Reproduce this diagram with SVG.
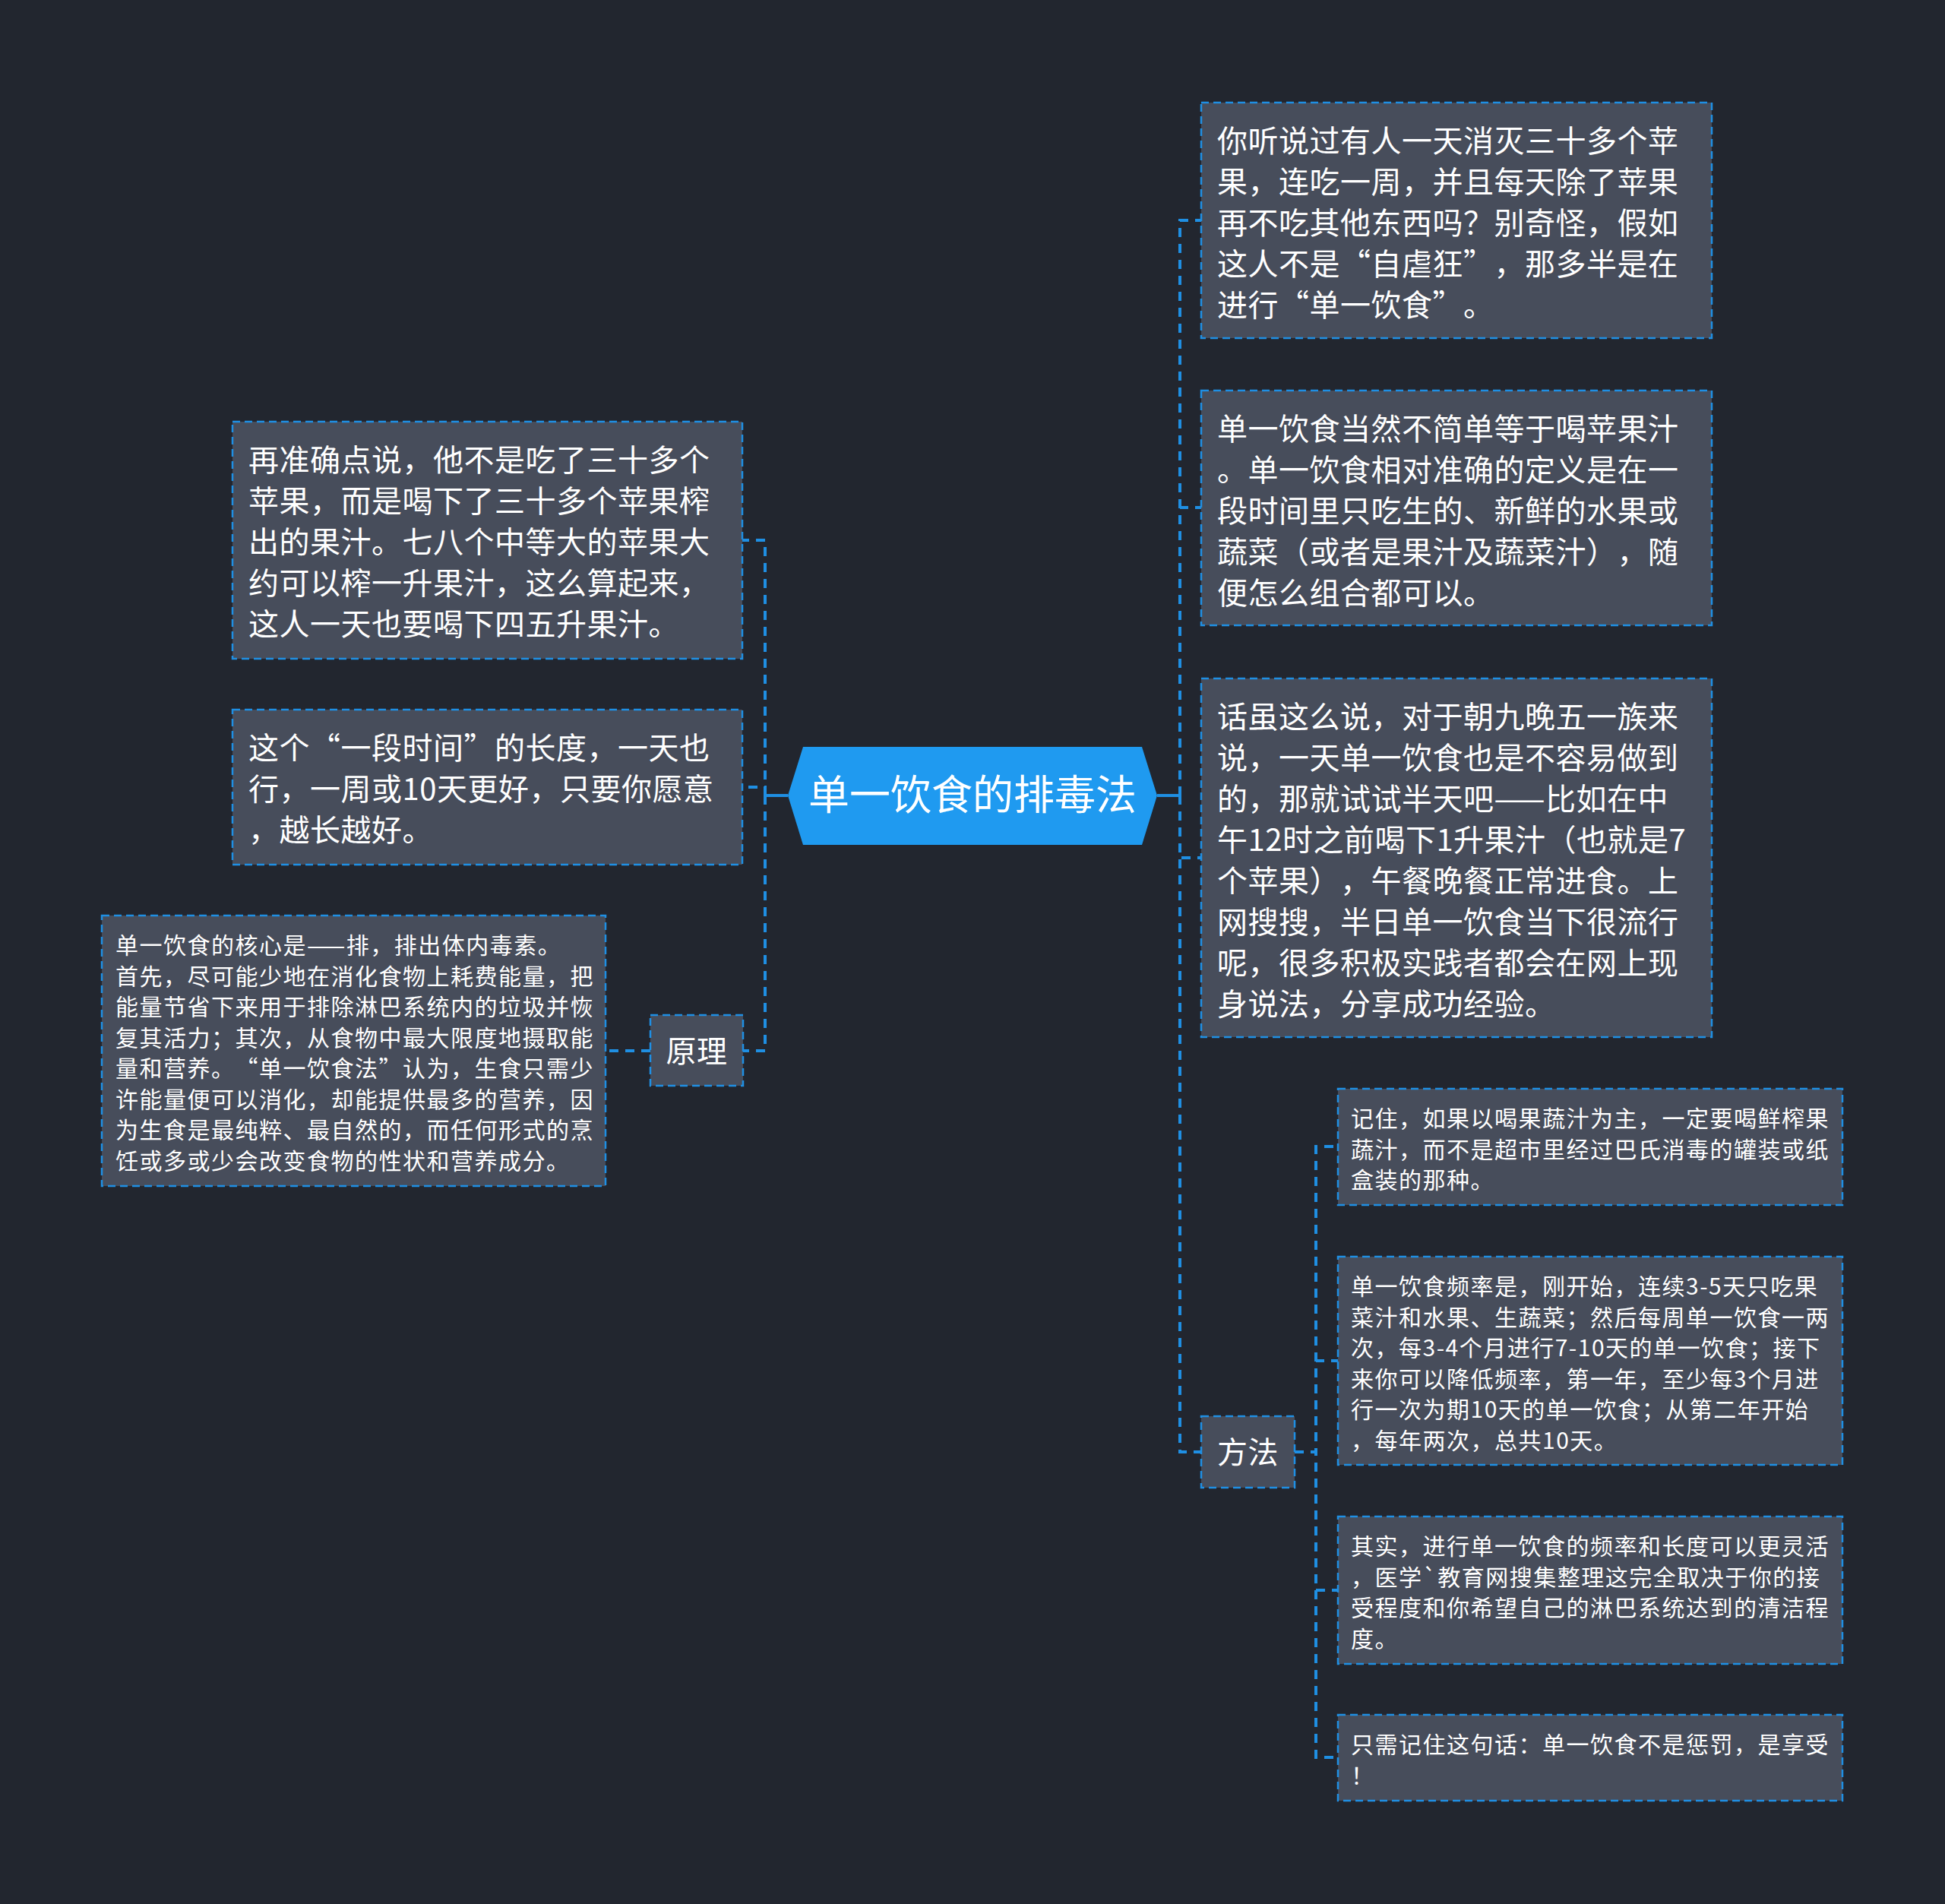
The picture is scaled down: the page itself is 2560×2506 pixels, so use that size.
<svg xmlns="http://www.w3.org/2000/svg" width="2560" height="2506" viewBox="0 0 2560 2506">
<style>
.box{fill:#474d5b;stroke:#1f8fe3;stroke-width:2.5;stroke-dasharray:10 6}
.t{font-family:"Noto Sans CJK SC","Noto Sans",sans-serif;fill:#ffffff;text-spacing-trim:space-all}
.big{font-size:40px;letter-spacing:0.5px}
.small{font-size:30px;letter-spacing:1.5px}
.conn{fill:none;stroke:#1f8fe3;stroke-width:4;stroke-dasharray:12 9}
.solid{fill:none;stroke:#1f8fe3;stroke-width:4}
</style>
<rect x="0" y="0" width="2560" height="2506" fill="#22262f"/>
<g id="connectors">
<path class="solid" d="M1037,1047 H1007"/>
<path class="conn" d="M1007,1047 V711 H977"/>
<path class="conn" d="M1007,1047 V1036 H977"/>
<path class="conn" d="M1007,1047 V1383 H978"/>
<path class="conn" d="M856,1383 H797"/>
<path class="solid" d="M1523,1047 H1553"/>
<path class="conn" d="M1553,1047 V290 H1581"/>
<path class="conn" d="M1553,1047 V668 H1581"/>
<path class="conn" d="M1553,1047 V1129 H1581"/>
<path class="conn" d="M1553,1047 V1911 H1581"/>
<path class="conn" d="M1704,1911 H1732 V1509 H1761"/>
<path class="conn" d="M1704,1911 H1732 V1791 H1761"/>
<path class="conn" d="M1704,1911 H1732 V2093 H1761"/>
<path class="conn" d="M1704,1911 H1732 V2313 H1761"/>
</g>
<g id="center">
<polygon points="1037,1047 1057,983 1503,983 1523,1047 1503,1112 1057,1112" fill="#1f9af0"/>
<text class="t" x="1280" y="1066" font-size="54" text-anchor="middle">单一饮食的排毒法</text>
</g>
<g id="nodeA">
<rect class="box" x="306" y="555" width="671" height="312"/>
<text class="t big" x="327" y="620"><tspan x="327">再准确点说，他不是吃了三十多个</tspan><tspan x="327" dy="54">苹果，而是喝下了三十多个苹果榨</tspan><tspan x="327" dy="54">出的果汁。七八个中等大的苹果大</tspan><tspan x="327" dy="54">约可以榨一升果汁，这么算起来，</tspan><tspan x="327" dy="54">这人一天也要喝下四五升果汁。</tspan></text>
</g>
<g id="nodeB">
<rect class="box" x="306" y="934" width="671" height="204"/>
<text class="t big" x="327" y="999"><tspan x="327">这个“一段时间”的长度，一天也</tspan><tspan x="327" dy="54">行，一周或10天更好，只要你愿意</tspan><tspan x="327" dy="54">，越长越好。</tspan></text>
</g>
<g id="nodeYuanli">
<rect class="box" x="856" y="1336" width="122" height="93"/>
<text class="t big" x="917" y="1398" text-anchor="middle">原理</text>
</g>
<g id="nodeC">
<rect class="box" x="134" y="1205" width="663" height="356"/>
<text class="t small" x="152" y="1255"><tspan x="152">单一饮食的核心是——排，排出体内毒素。</tspan><tspan x="152" dy="40.5">首先，尽可能少地在消化食物上耗费能量，把</tspan><tspan x="152" dy="40.5">能量节省下来用于排除淋巴系统内的垃圾并恢</tspan><tspan x="152" dy="40.5">复其活力；其次，从食物中最大限度地摄取能</tspan><tspan x="152" dy="40.5">量和营养。“单一饮食法”认为，生食只需少</tspan><tspan x="152" dy="40.5">许能量便可以消化，却能提供最多的营养，因</tspan><tspan x="152" dy="40.5">为生食是最纯粹、最自然的，而任何形式的烹</tspan><tspan x="152" dy="40.5">饪或多或少会改变食物的性状和营养成分。</tspan></text>
</g>
<g id="nodeD">
<rect class="box" x="1581" y="135" width="672" height="310"/>
<text class="t big" x="1602" y="200"><tspan x="1602">你听说过有人一天消灭三十多个苹</tspan><tspan x="1602" dy="54">果，连吃一周，并且每天除了苹果</tspan><tspan x="1602" dy="54">再不吃其他东西吗？别奇怪，假如</tspan><tspan x="1602" dy="54">这人不是“自虐狂”，那多半是在</tspan><tspan x="1602" dy="54">进行“单一饮食”。</tspan></text>
</g>
<g id="nodeE">
<rect class="box" x="1581" y="514" width="672" height="309"/>
<text class="t big" x="1602" y="579"><tspan x="1602">单一饮食当然不简单等于喝苹果汁</tspan><tspan x="1602" dy="54">。单一饮食相对准确的定义是在一</tspan><tspan x="1602" dy="54">段时间里只吃生的、新鲜的水果或</tspan><tspan x="1602" dy="54">蔬菜（或者是果汁及蔬菜汁），随</tspan><tspan x="1602" dy="54">便怎么组合都可以。</tspan></text>
</g>
<g id="nodeF">
<rect class="box" x="1581" y="893" width="672" height="472"/>
<text class="t big" x="1602" y="958"><tspan x="1602">话虽这么说，对于朝九晚五一族来</tspan><tspan x="1602" dy="54">说，一天单一饮食也是不容易做到</tspan><tspan x="1602" dy="54">的，那就试试半天吧——比如在中</tspan><tspan x="1602" dy="54">午12时之前喝下1升果汁（也就是7</tspan><tspan x="1602" dy="54">个苹果），午餐晚餐正常进食。上</tspan><tspan x="1602" dy="54">网搜搜，半日单一饮食当下很流行</tspan><tspan x="1602" dy="54">呢，很多积极实践者都会在网上现</tspan><tspan x="1602" dy="54">身说法，分享成功经验。</tspan></text>
</g>
<g id="nodeFangfa">
<rect class="box" x="1581" y="1864" width="123" height="94"/>
<text class="t big" x="1642.5" y="1926" text-anchor="middle">方法</text>
</g>
<g id="nodeG">
<rect class="box" x="1761" y="1433" width="664" height="153"/>
<text class="t small" x="1778" y="1483"><tspan x="1778">记住，如果以喝果蔬汁为主，一定要喝鲜榨果</tspan><tspan x="1778" dy="40.5">蔬汁，而不是超市里经过巴氏消毒的罐装或纸</tspan><tspan x="1778" dy="40.5">盒装的那种。</tspan></text>
</g>
<g id="nodeH">
<rect class="box" x="1761" y="1654" width="664" height="274"/>
<text class="t small" x="1778" y="1704"><tspan x="1778">单一饮食频率是，刚开始，连续3-5天只吃果</tspan><tspan x="1778" dy="40.5">菜汁和水果、生蔬菜；然后每周单一饮食一两</tspan><tspan x="1778" dy="40.5">次，每3-4个月进行7-10天的单一饮食；接下</tspan><tspan x="1778" dy="40.5">来你可以降低频率，第一年，至少每3个月进</tspan><tspan x="1778" dy="40.5">行一次为期10天的单一饮食；从第二年开始</tspan><tspan x="1778" dy="40.5">，每年两次，总共10天。</tspan></text>
</g>
<g id="nodeI">
<rect class="box" x="1761" y="1996" width="664" height="194"/>
<text class="t small" x="1778" y="2046"><tspan x="1778">其实，进行单一饮食的频率和长度可以更灵活</tspan><tspan x="1778" dy="40.5">，医学`教育网搜集整理这完全取决于你的接</tspan><tspan x="1778" dy="40.5">受程度和你希望自己的淋巴系统达到的清洁程</tspan><tspan x="1778" dy="40.5">度。</tspan></text>
</g>
<g id="nodeJ">
<rect class="box" x="1761" y="2257" width="664" height="113"/>
<text class="t small" x="1778" y="2307"><tspan x="1778">只需记住这句话：单一饮食不是惩罚，是享受</tspan><tspan x="1778" dy="40.5">！</tspan></text>
</g>
</svg>
